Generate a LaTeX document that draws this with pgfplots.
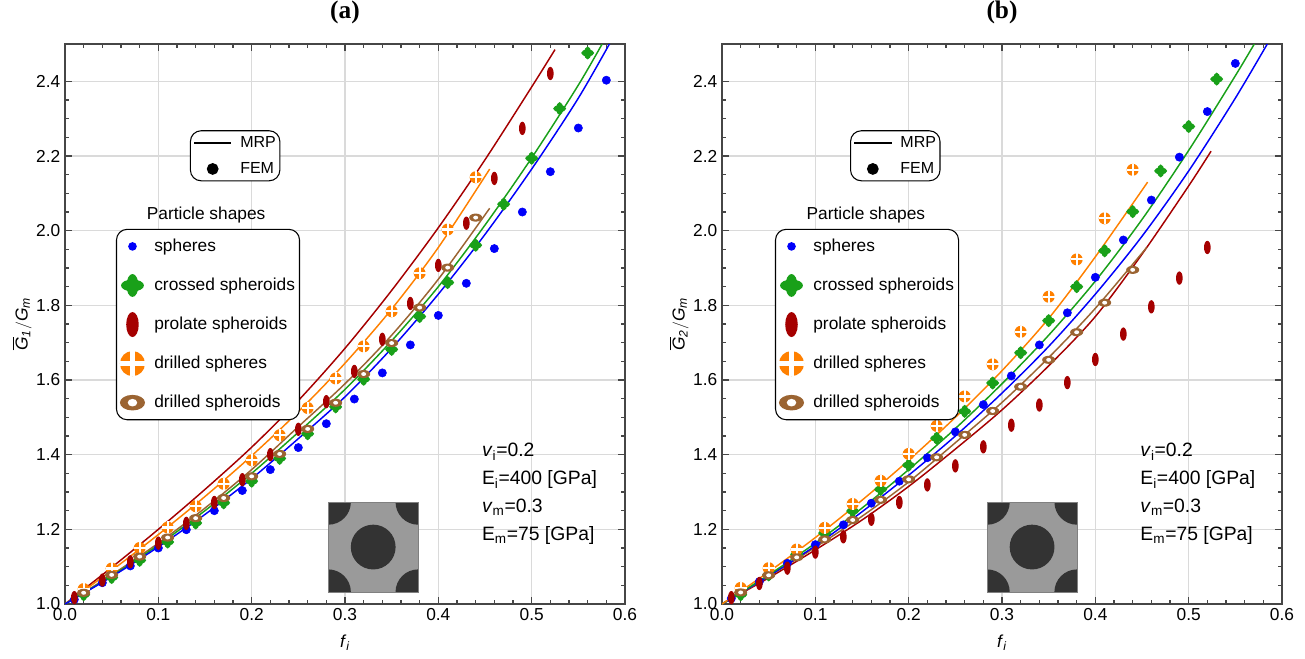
\documentclass[border=0pt]{standalone}
\usepackage{amsmath}
\usepackage{pgfplots}
\pgfplotsset{compat=1.18}
\usepackage{fontspec}
\setmainfont{Liberation Sans}
\newfontfamily\titlefont{Liberation Serif}
\usetikzlibrary{calc}

\definecolor{cblue}{RGB}{0,0,250}
\definecolor{cgreen}{RGB}{25,160,25}
\definecolor{cred}{RGB}{165,0,0}
\definecolor{corange}{RGB}{255,128,0}
\definecolor{cbrown}{RGB}{155,100,50}
\definecolor{gridgray}{RGB}{218,218,218}
\definecolor{axgray}{RGB}{70,70,70}
\definecolor{inlight}{RGB}{154,154,154}
\definecolor{indark}{RGB}{51,51,51}

\pgfdeclareplotmark{crossed}{%
  \pgfpathellipse{\pgfpointorigin}{\pgfpoint{\pgfplotmarksize}{0pt}}{\pgfpoint{0pt}{0.52\pgfplotmarksize}}%
  \pgfusepathqfill
  \pgfpathellipse{\pgfpointorigin}{\pgfpoint{0.52\pgfplotmarksize}{0pt}}{\pgfpoint{0pt}{\pgfplotmarksize}}%
  \pgfusepathqfill}
\pgfdeclareplotmark{prolate}{%
  \pgfpathellipse{\pgfpointorigin}{\pgfpoint{0.5\pgfplotmarksize}{0pt}}{\pgfpoint{0pt}{\pgfplotmarksize}}%
  \pgfusepathqfill}
\pgfdeclareplotmark{drilledsph}{%
  \pgfpathcircle{\pgfpointorigin}{\pgfplotmarksize}\pgfusepathqfill
  \pgfscope\pgfsetfillcolor{white}%
  \pgfpathrectanglecorners{\pgfpoint{-0.18\pgfplotmarksize}{-1.02\pgfplotmarksize}}{\pgfpoint{0.18\pgfplotmarksize}{1.02\pgfplotmarksize}}%
  \pgfusepathqfill
  \pgfpathrectanglecorners{\pgfpoint{-1.02\pgfplotmarksize}{-0.18\pgfplotmarksize}}{\pgfpoint{1.02\pgfplotmarksize}{0.18\pgfplotmarksize}}%
  \pgfusepathqfill
  \endpgfscope}
\pgfdeclareplotmark{drilledspd}{%
  \pgfpathellipse{\pgfpointorigin}{\pgfpoint{\pgfplotmarksize}{0pt}}{\pgfpoint{0pt}{0.62\pgfplotmarksize}}%
  \pgfusepathqfill
  \pgfscope\pgfsetfillcolor{white}%
  \pgfpathellipse{\pgfpointorigin}{\pgfpoint{0.38\pgfplotmarksize}{0pt}}{\pgfpoint{0pt}{0.3\pgfplotmarksize}}%
  \pgfusepathqfill
  \endpgfscope}

\pgfplotsset{
  panel/.style={
    scale only axis, width=420pt, height=420pt, anchor=south west,
    xmin=0, xmax=0.6, ymin=1, ymax=2.5,
    xtick={0,0.1,0.2,0.3,0.4,0.5,0.6},
    ytick={1,1.2,1.4,1.6,1.8,2,2.2,2.4},
    minor x tick num=4, minor y tick num=3,
    tick align=inside,
    major tick length=5pt, minor tick length=3pt,
    tick style={axgray, line width=0.8pt},
    axis line style={axgray, line width=1.1pt},
    grid=major, major grid style={gridgray, line width=0.8pt},
    tick label style={font=\fontsize{13}{15}\selectfont},
    /pgf/number format/assume math mode=true,
    xticklabel style={/pgf/number format/.cd, fixed, fixed zerofill, precision=1},
    yticklabel style={/pgf/number format/.cd, fixed, fixed zerofill, precision=1},
    title style={font=\titlefont\bfseries\fontsize{19}{21}\selectfont, at={(0.5,1.043)}, anchor=center},
    xlabel style={font=\fontsize{13}{15}\selectfont, at={(0.5,-0.069)}, anchor=center},
    ylabel style={font=\fontsize{13}{15}\selectfont, at={(-0.077,0.5)}, anchor=center},
    xlabel={\textit{f}\textsubscript{\textit{i}}},
    legend style={draw=black, fill=white, line width=0.8pt, rounded corners=8pt,
      font=\fontsize{13}{15}\selectfont, row sep=9.3pt, inner xsep=2.4pt, inner ysep=2.8pt,
      nodes={inner sep=1pt},
      /tikz/every odd column/.append style={column sep=5.8pt}},
    legend cell align=left,
  },
  legaxis/.style={
    scale only axis, width=420pt, height=420pt, anchor=south west, hide axis,
    xmin=0, xmax=1, ymin=0, ymax=1,
    legend style={draw=black, fill=white, line width=0.8pt, rounded corners=8pt,
      font=\fontsize{12}{14}\selectfont, row sep=8pt, inner xsep=2pt, inner ysep=3pt,
      nodes={inner sep=1pt},
      /tikz/every odd column/.append style={column sep=5pt}},
    legend cell align=left,
  },
  mrp/.style={black, line width=1.4pt, legend image code/.code={\draw[##1] (0pt,0pt) -- (28pt,0pt);}},
  fem/.style={black, mark=*, mark size=4pt, legend image code/.code={\draw[##1, only marks] plot coordinates {(14pt,0pt)};}},
  markimg/.style={legend image code/.code={\path[draw=none, fill=none] (0pt,-10pt) rectangle (18pt,10pt);\draw[##1, only marks] plot coordinates {(9pt,0pt)};}},
  mline/.style={line width=1.1pt, smooth, no markers},
}

\begin{document}
\begin{tikzpicture}
\useasboundingbox (0,0) rectangle (978.75pt,493.5pt);

% ================= panel (a) =================
\begin{axis}[panel, at={(48.75pt,40.5pt)}, title={(a)},
  ylabel={$\overline{\textit{G}}_{\textit{1}}/\textit{G}_{\textit{m}}$},
  legend style={at={(0.091,0.67)}, anchor=north west}]
\addlegendimage{cblue, mark=*, mark size=2.8pt, markimg}\addlegendentry{spheres}
\addlegendimage{cgreen, mark=crossed, mark size=8.6pt, markimg}\addlegendentry{crossed spheroids}
\addlegendimage{cred, mark=prolate, mark size=9.4pt, markimg}\addlegendentry{prolate spheroids}
\addlegendimage{corange, mark=drilledsph, mark size=9.4pt, markimg}\addlegendentry{drilled spheres}
\addlegendimage{cbrown, mark=drilledspd, mark size=9.4pt, markimg}\addlegendentry{drilled spheroids}

% MRP lines
\addplot[cred, mline, forget plot] coordinates {(0,1)(0.05,1.098)(0.1,1.2)(0.15,1.307)(0.2,1.42)(0.25,1.545)(0.3,1.685)(0.35,1.84)(0.4,2.008)(0.45,2.19)(0.5,2.385)(0.525,2.485)};
\addplot[corange, mline, forget plot] coordinates {(0,1)(0.05,1.09)(0.1,1.186)(0.15,1.288)(0.2,1.397)(0.25,1.515)(0.3,1.645)(0.35,1.79)(0.4,1.955)(0.455,2.165)};
\addplot[cbrown, mline, forget plot] coordinates {(0,1)(0.05,1.078)(0.1,1.163)(0.15,1.257)(0.2,1.36)(0.25,1.475)(0.3,1.59)(0.35,1.72)(0.4,1.87)(0.455,2.06)};
\addplot[cgreen, mline, forget plot] coordinates {(0,1)(0.05,1.075)(0.1,1.158)(0.15,1.25)(0.2,1.35)(0.25,1.46)(0.3,1.575)(0.35,1.705)(0.4,1.85)(0.45,2.015)(0.5,2.195)(0.55,2.39)(0.58,2.52)};
\addplot[cblue, mline, forget plot] coordinates {(0,1)(0.05,1.073)(0.1,1.153)(0.15,1.24)(0.2,1.336)(0.25,1.443)(0.3,1.555)(0.35,1.685)(0.4,1.83)(0.45,1.99)(0.5,2.165)(0.55,2.355)(0.59,2.53)};

% FEM points
\addplot[cblue, only marks, mark=*, mark size=3.1pt, forget plot] coordinates {
(0.01,1.012)(0.04,1.057)(0.07,1.102)(0.10,1.150)(0.13,1.199)(0.16,1.250)(0.19,1.304)(0.22,1.360)(0.25,1.419)(0.28,1.483)
(0.31,1.549)(0.34,1.619)(0.37,1.694)(0.40,1.773)(0.43,1.859)(0.46,1.952)(0.49,2.050)(0.52,2.158)(0.55,2.275)(0.58,2.403)};
\addplot[cgreen, only marks, mark=crossed, mark size=4.9pt, forget plot] coordinates {
(0.02,1.025)(0.05,1.071)(0.08,1.117)(0.11,1.166)(0.14,1.217)(0.17,1.271)(0.20,1.329)(0.23,1.390)(0.26,1.456)(0.29,1.528)
(0.32,1.602)(0.35,1.682)(0.38,1.770)(0.41,1.861)(0.44,1.961)(0.47,2.071)(0.50,2.194)(0.53,2.327)(0.56,2.476)};
\addplot[cred, only marks, mark=prolate, mark size=5pt, forget plot] coordinates {
(0.01,1.017)(0.04,1.064)(0.07,1.113)(0.10,1.163)(0.13,1.216)(0.16,1.272)(0.19,1.333)(0.22,1.400)(0.25,1.468)(0.28,1.542)
(0.31,1.623)(0.34,1.709)(0.37,1.805)(0.40,1.907)(0.43,2.020)(0.46,2.140)(0.49,2.274)(0.52,2.421)};
\addplot[corange, only marks, mark=drilledsph, mark size=4.5pt, forget plot] coordinates {
(0.02,1.040)(0.05,1.095)(0.08,1.150)(0.11,1.205)(0.14,1.262)(0.17,1.322)(0.20,1.385)(0.23,1.452)(0.26,1.525)(0.29,1.604)
(0.32,1.690)(0.35,1.784)(0.38,1.886)(0.41,2.003)(0.44,2.143)};
\addplot[cbrown, only marks, mark=drilledspd, mark size=4.9pt, forget plot] coordinates {
(0.02,1.030)(0.05,1.078)(0.08,1.127)(0.11,1.178)(0.14,1.230)(0.17,1.284)(0.20,1.342)(0.23,1.402)(0.26,1.469)(0.29,1.539)
(0.32,1.616)(0.35,1.699)(0.38,1.794)(0.41,1.901)(0.44,2.035)};

\node[font=\fontsize{13}{15}\selectfont] at (rel axis cs:0.252,0.695) {Particle shapes};
\node[anchor=west, align=left, inner sep=0pt, font=\fontsize{14.5}{21}\selectfont] at (axis cs:0.4465,1.294)
  {\textit{v}\textsubscript{i}=0.2\\E\textsubscript{i}=400 [GPa]\\\textit{v}\textsubscript{m}=0.3\\E\textsubscript{m}=75 [GPa]};
\coordinate (insA) at (axis cs:0.282,1.032);
\end{axis}
\begin{axis}[legaxis, at={(48.75pt,40.5pt)}, legend style={at={(0.223,0.846)}, anchor=north west}]
\addlegendimage{mrp}\addlegendentry{MRP}
\addlegendimage{fem}\addlegendentry{FEM}
\end{axis}
\begin{scope}
\clip (insA) rectangle ++(67.5pt,67.5pt);
\fill[inlight] (insA) rectangle ++(67.5pt,67.5pt);
\fill[indark] (insA) circle (17pt);
\fill[indark] ($(insA)+(67.5pt,0pt)$) circle (17pt);
\fill[indark] ($(insA)+(0pt,67.5pt)$) circle (17pt);
\fill[indark] ($(insA)+(67.5pt,67.5pt)$) circle (17pt);
\fill[indark] ($(insA)+(33.75pt,33.75pt)$) circle (16.8pt);
\end{scope}
\draw[gray, line width=0.5pt] (insA) rectangle ++(67.5pt,67.5pt);

% ================= panel (b) =================
\begin{axis}[panel, at={(541.5pt,40.5pt)}, title={(b)},
  ylabel={$\overline{\textit{G}}_{\textit{2}}/\textit{G}_{\textit{m}}$},
  legend style={at={(0.0946,0.67)}, anchor=north west}]
\addlegendimage{cblue, mark=*, mark size=2.8pt, markimg}\addlegendentry{spheres}
\addlegendimage{cgreen, mark=crossed, mark size=8.6pt, markimg}\addlegendentry{crossed spheroids}
\addlegendimage{cred, mark=prolate, mark size=9.4pt, markimg}\addlegendentry{prolate spheroids}
\addlegendimage{corange, mark=drilledsph, mark size=9.4pt, markimg}\addlegendentry{drilled spheres}
\addlegendimage{cbrown, mark=drilledspd, mark size=9.4pt, markimg}\addlegendentry{drilled spheroids}

\addplot[cred, mline, forget plot] coordinates {(0,1)(0.05,1.07)(0.1,1.145)(0.15,1.225)(0.2,1.315)(0.25,1.415)(0.3,1.52)(0.35,1.638)(0.4,1.77)(0.45,1.937)(0.5,2.12)(0.524,2.213)};
\addplot[cbrown, mline, forget plot] coordinates {(0,1)(0.05,1.074)(0.1,1.152)(0.15,1.235)(0.2,1.327)(0.25,1.432)(0.3,1.54)(0.35,1.66)(0.4,1.792)(0.455,1.955)};
\addplot[cblue, mline, forget plot] coordinates {(0,1)(0.05,1.075)(0.1,1.156)(0.15,1.247)(0.2,1.345)(0.25,1.45)(0.3,1.565)(0.35,1.69)(0.4,1.83)(0.45,1.985)(0.5,2.16)(0.55,2.355)(0.59,2.525)};
\addplot[cgreen, mline, forget plot] coordinates {(0,1)(0.05,1.078)(0.1,1.163)(0.15,1.257)(0.2,1.36)(0.25,1.47)(0.3,1.59)(0.35,1.72)(0.4,1.865)(0.45,2.03)(0.5,2.215)(0.55,2.415)(0.575,2.52)};
\addplot[corange, mline, forget plot] coordinates {(0,1)(0.05,1.086)(0.1,1.178)(0.15,1.278)(0.2,1.385)(0.25,1.50)(0.3,1.625)(0.35,1.765)(0.4,1.93)(0.456,2.13)};

\addplot[cblue, only marks, mark=*, mark size=3.1pt, forget plot] coordinates {
(0.01,1.015)(0.04,1.060)(0.07,1.109)(0.10,1.159)(0.13,1.212)(0.16,1.270)(0.19,1.329)(0.22,1.392)(0.25,1.461)(0.28,1.534)
(0.31,1.611)(0.34,1.694)(0.37,1.780)(0.40,1.875)(0.43,1.975)(0.46,2.082)(0.49,2.197)(0.52,2.319)(0.55,2.448)};
\addplot[cgreen, only marks, mark=crossed, mark size=4.9pt, forget plot] coordinates {
(0.02,1.025)(0.05,1.078)(0.08,1.133)(0.11,1.190)(0.14,1.249)(0.17,1.307)(0.20,1.372)(0.23,1.444)(0.26,1.516)(0.29,1.592)
(0.32,1.673)(0.35,1.759)(0.38,1.850)(0.41,1.946)(0.44,2.051)(0.47,2.160)(0.50,2.279)(0.53,2.406)};
\addplot[cred, only marks, mark=prolate, mark size=5pt, forget plot] coordinates {
(0.01,1.017)(0.04,1.055)(0.07,1.096)(0.10,1.139)(0.13,1.180)(0.16,1.227)(0.19,1.272)(0.22,1.319)(0.25,1.370)(0.28,1.421)
(0.31,1.479)(0.34,1.533)(0.37,1.593)(0.40,1.655)(0.43,1.723)(0.46,1.796)(0.49,1.873)(0.52,1.955)};
\addplot[corange, only marks, mark=drilledsph, mark size=4.5pt, forget plot] coordinates {
(0.02,1.043)(0.05,1.096)(0.08,1.146)(0.11,1.204)(0.14,1.268)(0.17,1.330)(0.20,1.402)(0.23,1.477)(0.26,1.556)(0.29,1.642)
(0.32,1.729)(0.35,1.823)(0.38,1.923)(0.41,2.033)(0.44,2.163)};
\addplot[cbrown, only marks, mark=drilledspd, mark size=4.9pt, forget plot] coordinates {
(0.02,1.031)(0.05,1.077)(0.08,1.125)(0.11,1.173)(0.14,1.225)(0.17,1.279)(0.20,1.334)(0.23,1.393)(0.26,1.453)(0.29,1.517)
(0.32,1.582)(0.35,1.654)(0.38,1.728)(0.41,1.807)(0.44,1.895)};

\node[font=\fontsize{13}{15}\selectfont] at (rel axis cs:0.257,0.695) {Particle shapes};
\node[anchor=west, align=left, inner sep=0pt, font=\fontsize{14.5}{21}\selectfont] at (axis cs:0.448,1.294)
  {\textit{v}\textsubscript{i}=0.2\\E\textsubscript{i}=400 [GPa]\\\textit{v}\textsubscript{m}=0.3\\E\textsubscript{m}=75 [GPa]};
\coordinate (insB) at (axis cs:0.284,1.032);
\end{axis}
\begin{axis}[legaxis, at={(541.5pt,40.5pt)}, legend style={at={(0.2286,0.846)}, anchor=north west}]
\addlegendimage{mrp}\addlegendentry{MRP}
\addlegendimage{fem}\addlegendentry{FEM}
\end{axis}
\begin{scope}
\clip (insB) rectangle ++(67.5pt,67.5pt);
\fill[inlight] (insB) rectangle ++(67.5pt,67.5pt);
\fill[indark] (insB) circle (17pt);
\fill[indark] ($(insB)+(67.5pt,0pt)$) circle (17pt);
\fill[indark] ($(insB)+(0pt,67.5pt)$) circle (17pt);
\fill[indark] ($(insB)+(67.5pt,67.5pt)$) circle (17pt);
\fill[indark] ($(insB)+(33.75pt,33.75pt)$) circle (16.8pt);
\end{scope}
\draw[gray, line width=0.5pt] (insB) rectangle ++(67.5pt,67.5pt);
\end{tikzpicture}
\end{document}
